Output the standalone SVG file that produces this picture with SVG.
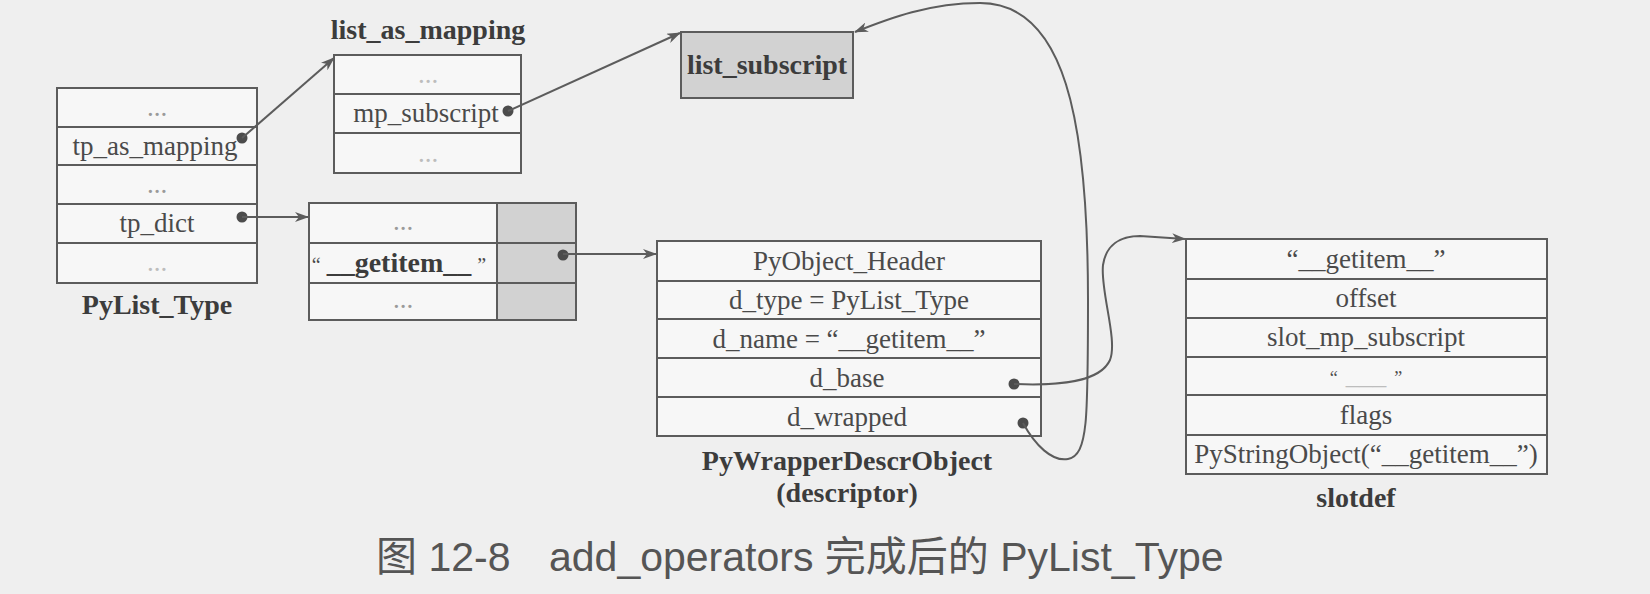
<svg xmlns="http://www.w3.org/2000/svg" width="1650" height="594" viewBox="0 0 1650 594">
<defs>
<style>
.box{fill:#f7f7f7;stroke:#5c5c5c;stroke-width:2}
.gray{fill:#d2d2d2;stroke:#5c5c5c;stroke-width:2}
.ln{stroke:#5c5c5c;stroke-width:2}
.t{font-family:"Liberation Serif","Times New Roman",serif;font-size:27px;fill:#4a4a4a;text-anchor:middle}
.b{font-weight:bold;font-size:28px;fill:#3c3c3c}
.f{fill:#9a9a9a}
.ff{fill:#bdbdbd}
.conn{fill:none;stroke:#5c5c5c;stroke-width:2;marker-end:url(#ah)}
.dot{fill:#4c4c4c}
.cap{font-family:"Liberation Sans","Noto Sans CJK SC",sans-serif;font-size:41px;fill:#555}
</style>
<marker id="ah" viewBox="0 0 14 10" refX="13" refY="5" markerWidth="14" markerHeight="10" markerUnits="userSpaceOnUse" orient="auto">
<path d="M0,0 L14,5 L0,10 L4,5 z" fill="#5c5c5c"/>
</marker>
</defs>
<rect x="0" y="0" width="1650" height="594" fill="#efefef"/>

<g id="PyList_Type">
<rect class="box" x="57" y="88" width="200" height="195"/>
<line class="ln" x1="57" y1="127" x2="257" y2="127"/>
<line class="ln" x1="57" y1="165" x2="257" y2="165"/>
<line class="ln" x1="57" y1="204" x2="257" y2="204"/>
<line class="ln" x1="57" y1="243" x2="257" y2="243"/>
<text class="t f" x="157" y="116">...</text>
<text class="t" x="155" y="155">tp_as_mapping</text>
<text class="t f" x="157" y="193">...</text>
<text class="t" x="157" y="232">tp_dict</text>
<text class="t ff" x="157" y="271">...</text>
<circle class="dot" cx="242" cy="138" r="5.5"/>
<circle class="dot" cx="242" cy="217" r="5.5"/>
<text class="t b" x="157" y="314">PyList_Type</text>
</g>

<g id="list_as_mapping">
<rect class="box" x="334" y="55" width="187" height="118"/>
<line class="ln" x1="334" y1="94" x2="521" y2="94"/>
<line class="ln" x1="334" y1="133" x2="521" y2="133"/>
<text class="t ff" x="428" y="83">...</text>
<text class="t" x="426" y="122">mp_subscript</text>
<text class="t ff" x="428" y="162">...</text>
<circle class="dot" cx="508" cy="111" r="5.5"/>
<text class="t b" x="428" y="39">list_as_mapping</text>
</g>

<g id="list_subscript">
<rect class="gray" x="681" y="32" width="172" height="66"/>
<text class="t b" x="767" y="74">list_subscript</text>
</g>

<g id="tp_dict">
<rect class="box" x="309" y="203" width="267" height="117"/>
<rect class="gray" x="497" y="203" width="79" height="117"/>
<line class="ln" x1="309" y1="243" x2="576" y2="243"/>
<line class="ln" x1="309" y1="283" x2="576" y2="283"/>
<text class="t f" x="403" y="230">...</text>
<text class="t" x="403" y="272"><tspan font-size="20" dx="-4">“</tspan><tspan class="b" font-size="27" dx="6">__getitem__</tspan><tspan font-size="20" dx="6">”</tspan></text>
<text class="t f" x="403" y="308">...</text>
<circle class="dot" cx="563" cy="255" r="5.5"/>
</g>

<g id="PyWrapperDescrObject">
<rect class="box" x="657" y="241" width="384" height="195"/>
<line class="ln" x1="657" y1="281" x2="1041" y2="281"/>
<line class="ln" x1="657" y1="319" x2="1041" y2="319"/>
<line class="ln" x1="657" y1="358" x2="1041" y2="358"/>
<line class="ln" x1="657" y1="397" x2="1041" y2="397"/>
<text class="t" x="849" y="270">PyObject_Header</text>
<text class="t" x="849" y="309">d_type = PyList_Type</text>
<text class="t" x="849" y="348">d_name = “__getitem__”</text>
<text class="t" x="847" y="387">d_base</text>
<text class="t" x="847" y="426">d_wrapped</text>
<circle class="dot" cx="1014" cy="384" r="5.5"/>
<circle class="dot" cx="1023" cy="423" r="5.5"/>
<text class="t b" x="847" y="470">PyWrapperDescrObject</text>
<text class="t b" x="847" y="502">(descriptor)</text>
</g>

<g id="slotdef">
<rect class="box" x="1186" y="239" width="361" height="235"/>
<line class="ln" x1="1186" y1="279" x2="1547" y2="279"/>
<line class="ln" x1="1186" y1="318" x2="1547" y2="318"/>
<line class="ln" x1="1186" y1="357" x2="1547" y2="357"/>
<line class="ln" x1="1186" y1="395" x2="1547" y2="395"/>
<line class="ln" x1="1186" y1="435" x2="1547" y2="435"/>
<text class="t" x="1366" y="268">“__getitem__”</text>
<text class="t" x="1366" y="307">offset</text>
<text class="t" x="1366" y="346">slot_mp_subscript</text>
<text class="t" x="1366" y="384"><tspan font-size="18">“</tspan><tspan class="ff" dx="8">___</tspan><tspan font-size="18" dx="8">”</tspan></text>
<text class="t" x="1366" y="424">flags</text>
<text class="t" x="1366" y="463">PyStringObject(“__getitem__”)</text>
<text class="t b" x="1356" y="507">slotdef</text>
</g>

<g id="connectors">
<path class="conn" d="M242,138 L334,58"/>
<path class="conn" d="M508,111 L680,33"/>
<path class="conn" d="M242,217 L308,217"/>
<path class="conn" d="M563,254 L656,254"/>
<path class="conn" d="M1014,384 C1060,386 1100,382 1110,360 C1118,340 1100,290 1103,265 C1106,245 1120,236 1140,236 L1185,239"/>
<path class="conn" d="M1023,423 C1035,445 1052,462 1068,459 C1088,455 1088,420 1088,300 C1088,120 1065,3 980,3 C930,3 890,18 855,32"/>
</g>

<text class="cap" x="376" y="571">图 12-8<tspan x="549">add_operators 完成后的 PyList_Type</tspan></text>
</svg>
